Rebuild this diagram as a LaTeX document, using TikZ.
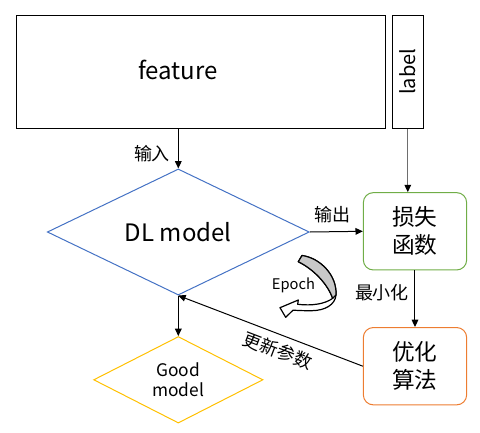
\documentclass[tikz,border=0pt]{standalone}
\usepackage{fontspec}
\setmainfont{Noto Sans CJK SC}
\usetikzlibrary{shapes.geometric,arrows.meta}
\definecolor{dlblue}{RGB}{68,114,196}
\definecolor{lossgreen}{RGB}{112,173,71}
\definecolor{optorange}{RGB}{237,125,49}
\definecolor{goodgold}{RGB}{255,192,0}
\definecolor{labelgray}{RGB}{110,110,110}
\definecolor{epochgray}{RGB}{200,200,200}
\tikzset{
  plainbox/.style={draw=black,line width=0.75pt,inner sep=0pt},
  roundbox/.style={draw,line width=0.75pt,rounded corners=7.5pt,minimum width=77.5pt,minimum height=58pt,inner sep=0pt,align=center,font=\fontsize{17}{21}\selectfont},
  dia/.style={diamond,draw,line width=0.75pt,inner sep=0pt,align=center},
  conn/.style={line width=0.75pt,-{Triangle[length=5.5pt,width=5pt,color=black]}},
  small/.style={font=\fontsize{13.5}{16}\selectfont}
}
\begin{document}
\begin{tikzpicture}[x=0.75pt,y=-0.75pt]
\useasboundingbox (0,0) rectangle (480,433);
% nodes
\node[plainbox,minimum width=277pt,minimum height=85pt] (feature) at (201,71.7) {};
\node[font=\fontsize{18}{21}\selectfont,inner sep=0pt] (featuretext) at (178,69.5) {feature};
\node[plainbox,minimum width=23.25pt,minimum height=85pt] (label) at (407.8,71.7) {};
\node[rotate=90,font=\fontsize{15}{18}\selectfont,inner sep=0pt] (labeltext) at (407.8,71.7) {label};
\node[dia,draw=dlblue,minimum width=196.5pt,minimum height=84.5pt,font=\fontsize{18}{21}\selectfont] (dl) at (178.3,232) {DL model};
\node[roundbox,draw=lossgreen] (loss) at (415,231.3) {损失\\函数};
\node[roundbox,draw=optorange] (opt) at (415,366.2) {优化\\算法};
\node[dia,draw=goodgold,minimum width=127pt,minimum height=53.8pt,font=\fontsize{13}{15.5}\selectfont] (good) at (178.3,379.8) {Good\\model};
% connectors
\draw[conn] (feature.south -| dl.north) -- (dl.north);
\draw[conn,draw=labelgray] (label.south) -- (label.south |- loss.north);
\draw[conn] (dl.east) -- (loss.west);
\draw[conn] (loss.south) -- (opt.north);
\draw[conn] (opt.west) -- (dl.south);
\draw[conn] (dl.south) -- (good.north);
% connector labels
\node[small] (lin) at (152,154) {输入};
\node[small] (lout) at (333,215) {输出};
\node[small] (lmin) at (382,293) {最小化};
\path (dl.south) -- (opt.west) node[small,pos=0.57,sloped,below=2pt] (lupd) {更新参数};
% epoch curved arrow
\draw[line width=0.9pt,fill=white,line join=round]
  (298.3,261.7) -- (302,255.5)
  .. controls (320,258) and (337,275) .. (336,295)
  .. controls (335,305) and (325,310.5) .. (311.7,310.7)
  .. controls (305,310.8) and (299,310.5) .. (293,310.2)
  -- (285.7,317.3) -- (280,307.7) -- (298.3,300) -- (297.7,304.3)
  .. controls (312,306) and (325,304) .. (332.7,298.3)
  .. controls (328,285) and (315,270) .. cycle;
\draw[line width=0.9pt,fill=epochgray,line join=round]
  (298.3,261.7) -- (302,255.5)
  .. controls (320,258) and (337,275) .. (336,295)
  -- (332.7,298.3)
  .. controls (328,285) and (315,270) .. cycle;
\node[font=\fontsize{11}{13}\selectfont] (epoch) at (293.5,285) {Epoch};
\end{tikzpicture}
\end{document}
